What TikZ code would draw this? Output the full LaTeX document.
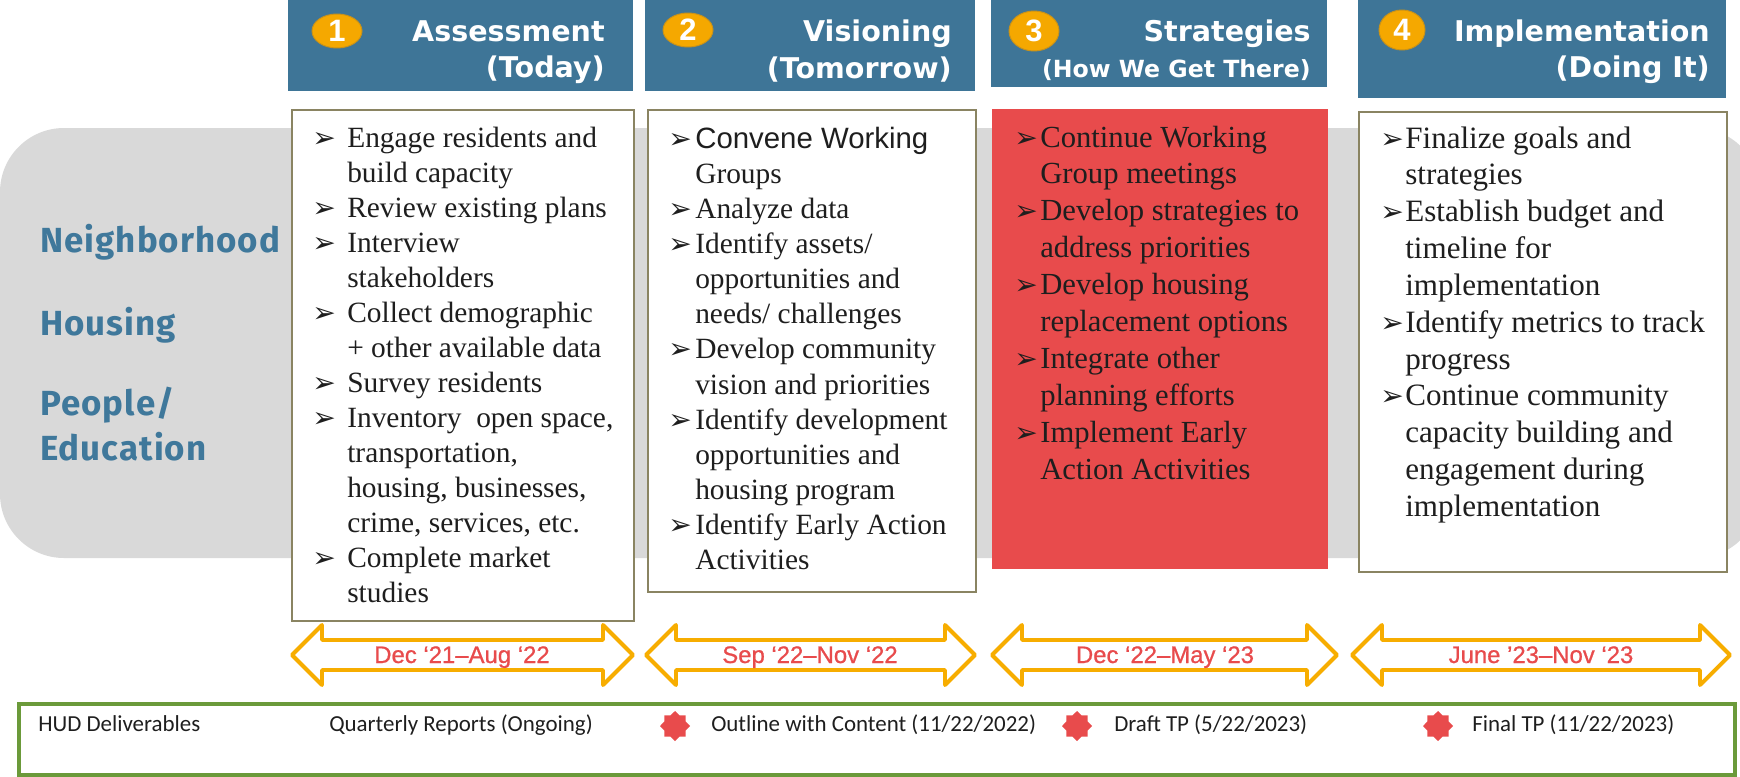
\documentclass[tikz,border=0pt]{standalone}
\usepackage{fontspec}
\setmainfont{Liberation Serif}
\newfontfamily\headfont{DejaVu Sans}
\newfontfamily\labelfont[LetterSpace=3]{Fira Sans}
\newfontfamily\arialfont{Liberation Sans}
\newfontfamily\datefont[FakeBold=0.8]{Liberation Sans}
\newfontfamily\notefont{Carlito}
\newfontfamily\symfont{DejaVu Sans}
\usepackage{tikz}
\usetikzlibrary{shapes.geometric}

\definecolor{headBlue}{HTML}{3E7597}
\definecolor{labelBlue}{HTML}{3F789B}
\definecolor{bandGray}{HTML}{D9D9D9}
\definecolor{boxEdge}{HTML}{8A8462}
\definecolor{redBox}{HTML}{E84B4C}
\definecolor{dotOrange}{HTML}{F5A800}
\definecolor{dotEdge}{HTML}{C8921A}
\definecolor{arrowOrange}{HTML}{F7AD00}
\definecolor{dateRed}{HTML}{E84B4C}
\definecolor{greenEdge}{HTML}{6B9A3A}
\definecolor{ink}{HTML}{1E1E1E}

\newlength{\bulwd}
\newcommand{\bul}{\makebox[\bulwd][l]{\symfont\fontsize{20}{20}\selectfont ➢}}

\begin{document}
\begin{tikzpicture}[
        x=0.025cm, y=-0.025cm,
        headbox/.style={rectangle, fill=headBlue, inner sep=0, anchor=north west},
        listbox/.style={rectangle, draw=boxEdge, line width=1.4pt, fill=white, inner sep=0, anchor=north west},
        headtext/.style={anchor=base east, inner sep=0, text=white, font=\headfont\bfseries\fontsize{20.3}{26.3}\selectfont},
        numdot/.style={ellipse, fill=dotOrange, draw=dotEdge, line width=0.7pt, inner sep=0, text=white, font=\arialfont\bfseries\fontsize{22}{22}\selectfont},
        listtext/.style={anchor=base west, inner sep=0, text=ink},
        sidelabel/.style={anchor=base west, inner sep=0, text=labelBlue, font=\labelfont\bfseries\fontsize{24.8}{24.8}\selectfont},
        daterange/.style={draw=arrowOrange, line width=2.8pt, fill=white, line join=round},
        datetext/.style={anchor=base, inner sep=0, text=dateRed, font=\datefont\fontsize{17}{17}\selectfont},
        notetext/.style={anchor=base west, inner sep=0, text=ink, font=\notefont\fontsize{16.3}{16.3}\selectfont},
        burst/.style={star, star points=8, star point ratio=1.3, fill=dateRed, inner sep=0, minimum size=0.75cm}
    ]
        \useasboundingbox (0,0) rectangle (1740,776);

        % Gray band behind the boxes
        \fill[bandGray, rounded corners=1.6cm] (0,128) rectangle (1760,558);

        % Side labels
        \node[sidelabel] (neighLabel) at (40,252) {Neighborhood};
        \node[sidelabel] (housingLabel) at (40,335) {Housing};
        \node[sidelabel] (peopleLabel) at (40,415) {People/};
        \node[sidelabel] (eduLabel) at (40,460) {Education};

        % Header row
        \node[headbox, minimum width=8.625cm, minimum height=2.275cm] (assessHead) at (288,0) {};
        \node[headbox, minimum width=8.25cm, minimum height=2.275cm] (visionHead) at (645,0) {};
        \node[headbox, minimum width=8.4cm, minimum height=2.175cm] (strategyHead) at (991,0) {};
        \node[headbox, minimum width=9.2cm, minimum height=2.45cm] (implHead) at (1358,0) {};

        \node[numdot, minimum width=1.25cm, minimum height=0.85cm] (assessNum) at (337,31) {1};
        \node[numdot, minimum width=1.25cm, minimum height=0.85cm] (visionNum) at (688,30) {2};
        \node[numdot, minimum width=1.25cm, minimum height=1.0cm] (strategyNum) at (1034,31) {3};
        \node[numdot, minimum width=1.15cm, minimum height=1.0cm] (implNum) at (1402,30) {4};

        \node[headtext] (assessTitle) at (605,41) {\begin{tabular}[t]{@{}r@{}}Assessment\\(Today)\end{tabular}};
        \node[headtext] (visionTitle) at (952,42) {\begin{tabular}[t]{@{}r@{}}Visioning\\(Tomorrow)\end{tabular}};
        \node[headtext] (strategyTitle) at (1311,41) {\begin{tabular}[t]{@{}r@{}}Strategies\\{\fontsize{16.8}{16.8}\selectfont(How We Get There)}\end{tabular}};
        \node[headtext] (implTitle) at (1710,41) {\begin{tabular}[t]{@{}r@{}}Implementation\\(Doing It)\end{tabular}};

        % Task boxes
        \node[listbox, minimum width=8.55cm, minimum height=12.775cm] (assessBox) at (291,109) {};
        \node[listbox, minimum width=8.2cm, minimum height=12.05cm] (visionBox) at (647,109) {};
        \node[listbox, draw=none, fill=redBox, minimum width=8.4cm, minimum height=11.5cm] (strategyBox) at (991,108) {};
        \node[listbox, minimum width=9.2cm, minimum height=11.5cm] (implBox) at (1358,111) {};

        \node[listtext, font=\fontsize{20.9}{24.9}\selectfont] (assessList) at (312,147) {\setlength{\bulwd}{24.9pt}%
            \begin{tabular}[t]{@{}l@{}l@{}}
                \bul & Engage residents and\\
                     & build capacity\\
                \bul & Review existing plans\\
                \bul & Interview\\
                     & stakeholders\\
                \bul & Collect demographic\\
                     & + other available data\\
                \bul & Survey residents\\
                \bul & Inventory\ \ open space,\\
                     & transportation,\\
                     & housing, businesses,\\
                     & crime, services, etc.\\
                \bul & Complete market\\
                     & studies
            \end{tabular}};

        \node[listtext, font=\fontsize{20.9}{25}\selectfont] (visionList) at (668,148) {\setlength{\bulwd}{19.2pt}%
            \begin{tabular}[t]{@{}l@{}l@{}}
                \bul & {\arialfont Convene Working}\\
                     & Groups\\
                \bul & Analyze data\\
                \bul & Identify assets/\\
                     & opportunities and\\
                     & needs/ challenges\\
                \bul & Develop community\\
                     & vision and priorities\\
                \bul & Identify development\\
                     & opportunities and\\
                     & housing program\\
                \bul & Identify Early Action\\
                     & Activities
            \end{tabular}};

        \node[listtext, font=\fontsize{21.8}{26.3}\selectfont] (strategyList) at (1014,147) {\setlength{\bulwd}{18.5pt}%
            \begin{tabular}[t]{@{}l@{}l@{}}
                \bul & Continue Working\\
                     & Group meetings\\
                \bul & Develop strategies to\\
                     & address priorities\\
                \bul & Develop housing\\
                     & replacement options\\
                \bul & Integrate other\\
                     & planning efforts\\
                \bul & Implement Early\\
                     & Action Activities
            \end{tabular}};

        \node[listtext, font=\fontsize{22.1}{26.2}\selectfont] (implList) at (1380,148) {\setlength{\bulwd}{17.8pt}%
            \begin{tabular}[t]{@{}l@{}l@{}}
                \bul & Finalize goals and\\
                     & strategies\\
                \bul & Establish budget and\\
                     & timeline for\\
                     & implementation\\
                \bul & Identify metrics to track\\
                     & progress\\
                \bul & Continue community\\
                     & capacity building and\\
                     & engagement during\\
                     & implementation
            \end{tabular}};

        % Date ranges
        \draw[daterange] (292,655) -- (322,625) -- (322,640) -- (603,640) -- (603,625) -- (633,655) -- (603,685) -- (603,670) -- (322,670) -- (322,685) -- cycle;
        \draw[daterange] (646,655) -- (676,625) -- (676,640) -- (945,640) -- (945,625) -- (975,655) -- (945,685) -- (945,670) -- (676,670) -- (676,685) -- cycle;
        \draw[daterange] (992,655) -- (1022,625) -- (1022,640) -- (1307,640) -- (1307,625) -- (1337,655) -- (1307,685) -- (1307,670) -- (1022,670) -- (1022,685) -- cycle;
        \draw[daterange] (1352,655) -- (1382,625) -- (1382,640) -- (1700,640) -- (1700,625) -- (1730,655) -- (1700,685) -- (1700,670) -- (1382,670) -- (1382,685) -- cycle;

        \node[datetext] (assessDate) at (462,663) {Dec ‘21–Aug ‘22};
        \node[datetext] (visionDate) at (810,663) {Sep ‘22–Nov ‘22};
        \node[datetext] (strategyDate) at (1165,663) {Dec ‘22–May ‘23};
        \node[datetext] (implDate) at (1541,663) {June ’23–Nov ‘23};

        % HUD deliverables strip
        \node[rectangle, draw=greenEdge, line width=2.85pt, inner sep=0, anchor=north west, minimum width=42.9cm, minimum height=1.775cm] (hudBox) at (17,702) {};
        \node[notetext] (hudLabel) at (38,731) {HUD Deliverables};
        \node[notetext] (quarterlyNote) at (329,731) {Quarterly Reports (Ongoing)};
        \node[burst] (outlineStar) at (675,726) {};
        \node[notetext] (outlineNote) at (711,731) {Outline with Content (11/22/2022)};
        \node[burst] (draftStar) at (1077,726) {};
        \node[notetext] (draftNote) at (1114,731) {Draft TP (5/22/2023)};
        \node[burst] (finalStar) at (1438,726) {};
        \node[notetext] (finalNote) at (1472,731) {Final TP (11/22/2023)};

    \end{tikzpicture}
\end{document}
